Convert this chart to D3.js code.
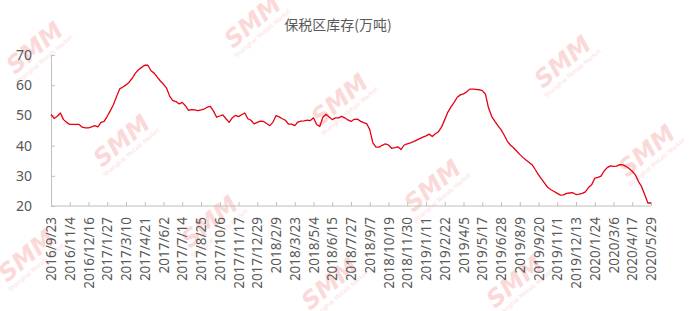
<!DOCTYPE html>
<html lang="zh-CN">
<head>
    <meta charset="UTF-8">
    <title>保税区库存(万吨)</title>
    <script src="https://cdnjs.cloudflare.com/ajax/libs/d3/7.8.5/d3.min.js"></script>
    <style>
        body { margin: 0; padding: 0; background: #fff; }
        svg { display: block; }
        .axis path, .axis line { stroke: #bfbfbf; }
        .axis text { fill: #595959; font-family: "Noto Sans", "Noto Sans CJK SC", sans-serif; }
        .watermark text { font-family: "DejaVu Sans", sans-serif; }
    </style>
</head>
<body>
    <svg id="chart"></svg>

    <script>
        // weekly series, starting 2016/9/23
        const startDate = new Date(2016, 8, 23);
        const stock = [
            50.3, 49.0, 49.7, 50.8, 48.6, 47.7, 47.0, 47.0, 47.0, 47.0,
            46.1, 45.9, 45.9, 46.2, 46.6, 46.2, 47.7, 48.0, 49.7, 51.6,
            53.6, 56.3, 58.8, 59.4, 60.1, 61.0, 62.3, 64.0, 65.1, 65.9,
            66.6, 66.6, 64.8, 64.0, 62.7, 61.4, 60.3, 59.0, 56.3, 54.9,
            54.6, 53.8, 54.3, 53.2, 51.7, 51.9, 51.8, 51.6, 51.8, 52.1,
            52.7, 53.0, 51.4, 49.4, 49.8, 50.2, 48.9, 47.7, 49.2, 50.0,
            49.6, 50.2, 50.8, 48.9, 48.4, 47.2, 47.7, 48.1, 48.0, 47.3,
            46.6, 47.7, 49.9, 49.5, 48.9, 48.4, 47.1, 47.1, 46.6, 47.8,
            48.1, 48.2, 48.4, 48.3, 49.2, 47.0, 46.3, 49.4, 50.4, 49.5,
            48.6, 49.2, 49.2, 49.7, 49.2, 48.5, 48.0, 48.7, 48.8, 48.1,
            47.6, 47.3, 45.3, 40.9, 39.5, 39.5, 40.1, 40.6, 40.2, 39.1,
            39.3, 39.6, 38.7, 40.2, 40.6, 40.9, 41.3, 41.8, 42.3, 42.8,
            43.2, 43.8, 43.0, 43.9, 44.6, 46.2, 48.6, 51.1, 52.8, 54.3,
            56.0, 56.8, 57.1, 57.8, 58.7, 58.7, 58.6, 58.5, 58.2, 57.1,
            52.5, 49.7, 48.1, 46.6, 45.3, 43.5, 41.5, 40.2, 39.3, 38.2,
            37.1, 36.1, 35.2, 34.4, 33.6, 32.0, 30.3, 28.9, 27.5, 26.1,
            25.4, 24.8, 24.2, 23.6, 23.7, 24.2, 24.3, 24.4, 23.8, 23.9,
            24.2, 24.7, 26.1, 27.0, 29.2, 29.5, 29.9, 31.6, 32.7, 33.3,
            33.1, 33.2, 33.7, 33.6, 33.1, 32.4, 31.5, 30.3, 28.1, 26.4,
            23.7, 21.0, 21.0
        ];
        const tickLabels = [
            "2016/9/23", "2016/11/4", "2016/12/16", "2017/1/27", "2017/3/10", "2017/4/21",
            "2017/6/2", "2017/7/14", "2017/8/25", "2017/10/6", "2017/11/17", "2017/12/29",
            "2018/2/9", "2018/3/23", "2018/5/4", "2018/6/15", "2018/7/27", "2018/9/7",
            "2018/10/19", "2018/11/30", "2019/1/11", "2019/2/22", "2019/4/5", "2019/5/17",
            "2019/6/28", "2019/8/9", "2019/9/20", "2019/11/1", "2019/12/13", "2020/1/24",
            "2020/3/6", "2020/4/17", "2020/5/29"
        ];
        const yTicks = [20, 30, 40, 50, 60, 70];
        const title = "保税区库存(万吨)";

        const fmt = d3.timeFormat("%Y/%-m/%-d");
        const data = stock.map((v, i) => ({
            date: fmt(d3.timeDay.offset(startDate, i * 7)),
            value: v
        }));

        const width = 689, height = 311;
        const margin = { top: 55, right: 38, bottom: 105, left: 51 };

        const svg = d3.select("#chart")
            .attr("width", width)
            .attr("height", height);

        // SMM watermarks (faint, behind the chart)
        const marks = [[40, 54], [258, 28], [127, 147], [345, 106], [568, 68], [652, 157],
                       [438, 192], [215, 228], [32, 262], [520, 288], [335, 290]];
        const wm = svg.append("g").attr("class", "watermark");
        marks.forEach(([mx, my]) => {
            const g = wm.append("g").attr("transform", `translate(${mx},${my}) rotate(-40)`);
            g.append("text")
                .attr("text-anchor", "middle")
                .attr("font-size", 24)
                .attr("font-weight", "bold")
                .attr("font-style", "italic")
                .attr("fill", "#fcd9d9")
                .text("SMM");
            g.append("text")
                .attr("y", 9)
                .attr("text-anchor", "middle")
                .attr("font-size", 6)
                .attr("fill", "#fce0e0")
                .text("Shanghai Metals Market");
        });

        const x = d3.scalePoint()
            .domain(data.map(d => d.date))
            .range([margin.left, width - margin.right]);

        const y = d3.scaleLinear()
            .domain([20, 70])
            .range([height - margin.bottom, margin.top]);

        // title
        svg.append("text")
            .attr("x", 338)
            .attr("y", 30)
            .attr("text-anchor", "middle")
            .attr("fill", "#595959")
            .attr("font-size", 14)
            .attr("font-family", "'Noto Sans CJK SC', sans-serif")
            .text(title);

        // y axis
        const yAxis = svg.append("g")
            .attr("class", "axis")
            .attr("transform", `translate(${margin.left},0)`)
            .call(d3.axisLeft(y).tickValues(yTicks).tickSize(-4).tickPadding(19));
        yAxis.selectAll("text").attr("font-size", 14);

        // x axis
        const xAxis = svg.append("g")
            .attr("class", "axis")
            .attr("transform", `translate(0,${height - margin.bottom})`)
            .call(d3.axisBottom(x).tickValues(tickLabels).tickSize(-4).tickSizeOuter(0));
        xAxis.selectAll("text")
            .attr("font-size", 13.5)
            .attr("transform", "rotate(-90)")
            .attr("text-anchor", "end")
            .attr("x", -11)
            .attr("y", 0)
            .attr("dy", "0.35em");
        xAxis.select(".domain").attr("d", `M${margin.left},0H${width - margin.right}`);

        // line
        const line = d3.line()
            .x(d => x(d.date))
            .y(d => y(d.value));

        svg.append("path")
            .datum(data)
            .attr("fill", "none")
            .attr("stroke", "#e60012")
            .attr("stroke-width", 1.3)
            .attr("stroke-linejoin", "round")
            .attr("d", line);
    </script>
</body>
</html>
